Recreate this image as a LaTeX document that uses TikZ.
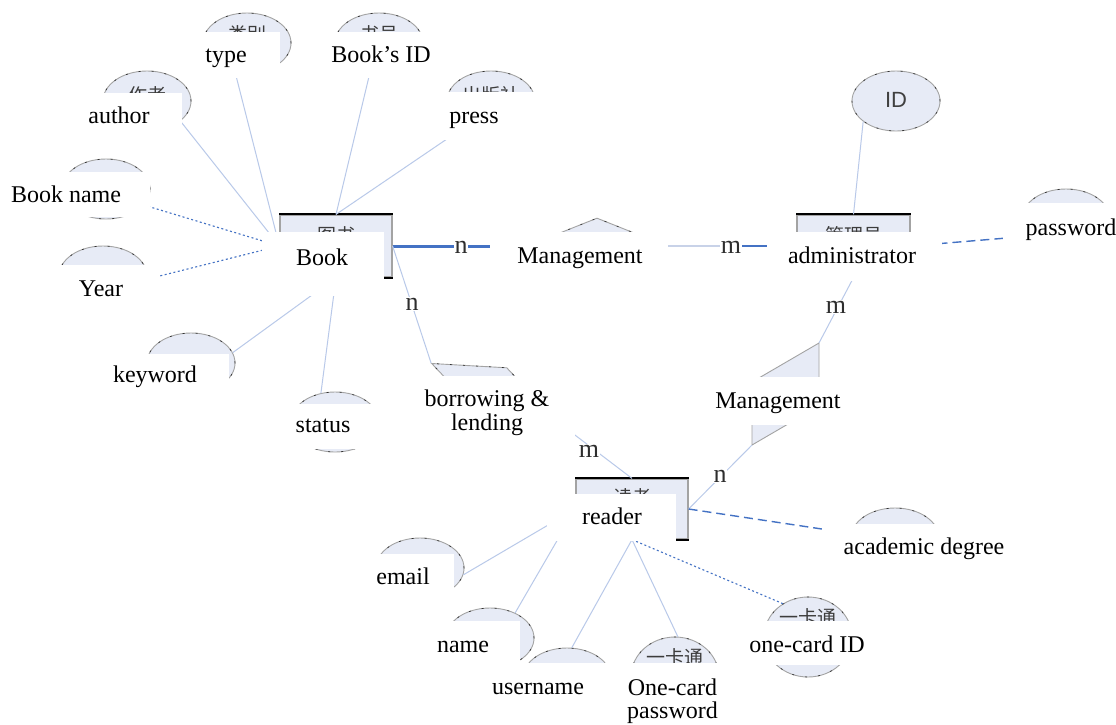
\documentclass[tikz,border=0pt]{standalone}
\usepackage{fontspec}
\setmainfont{Liberation Serif}
\newfontfamily\cjkfont{Noto Sans CJK SC}
\newfontfamily\idfont{Liberation Sans}
\usetikzlibrary{shapes.geometric,calc}

\definecolor{shapefill}{HTML}{E7EBF6}
\definecolor{shapeline}{HTML}{A3A3A3}
\definecolor{linkblue}{HTML}{4472C4}
\definecolor{linklight}{HTML}{B9C9E9}
\definecolor{linkpale}{HTML}{C8D2E8}
\definecolor{inktext}{HTML}{3C3C3C}

\tikzset{
  dotrim/.style={postaction={draw=black!80, line width=0.7pt, dash pattern=on 2pt off 11pt}},
  attr/.style={ellipse, fill=shapefill, draw=shapeline, line width=0.9pt,
    minimum width=88pt, minimum height=60pt, inner sep=0pt, dotrim},
  entity/.style={rectangle, fill=shapefill, draw=shapeline, line width=1.2pt,
    minimum width=112pt, minimum height=62pt, inner sep=0pt},
  relation/.style={diamond, fill=shapefill, draw=shapeline, line width=0.9pt,
    minimum width=140pt, minimum height=56pt, inner sep=0pt, dotrim},
  zh/.style={font=\cjkfont\fontsize{19}{23}\selectfont, text=inktext, inner sep=0pt},
  idtext/.style={font=\idfont\fontsize{22}{22}\selectfont, text=black!75, inner sep=0pt},
  cover/.style={fill=white},
  tag/.style={font=\fontsize{24}{24}\selectfont, anchor=base, inner sep=0pt},
  tagtwo/.style={font=\fontsize{24}{23.5}\selectfont, align=center, inner sep=0pt},
  card/.style={font=\fontsize{26}{26}\selectfont, text=black!82, fill=white, inner sep=0.8pt},
  link/.style={draw=linklight, line width=1pt},
  linkdot/.style={draw=linkblue, line width=1.1pt, dash pattern=on 2pt off 2.5pt},
  linkdash/.style={draw=linkblue, line width=1.4pt, dash pattern=on 9pt off 5pt},
  linkbold/.style={draw=linkblue, line width=3pt},
  edgebar/.style={draw=black, line width=2pt},
}

\begin{document}
\begin{tikzpicture}[x=1pt,y=-1pt]
\useasboundingbox (0,0) rectangle (1116,724);
\fill[white] (0,0) rectangle (1116,724);

% ---------- attributes of the book ----------
\node[attr, label={[zh,yshift=9pt]center:类别}] (type) at (247,43) {};
\node[attr, label={[zh,yshift=9pt]center:书号}] (bookid) at (379,43) {};
\node[attr, label={[zh,yshift=6pt]center:作者}] (author) at (147,101) {};
\node[attr, label={[zh,yshift=6pt]center:出版社}] (press) at (491,101) {};
\node[attr] (bookname) at (106,189) {};
\node[attr] (year) at (103,276) {};
\node[attr] (keyword) at (191,363) {};
\node[attr] (status) at (335,422) {};

% ---------- attributes of the administrator ----------
\node[attr, label={[idtext,yshift=1.5pt]center:ID}] (id) at (896,101) {};
\node[attr] (password) at (1066,219) {};

% ---------- attributes of the reader ----------
\node[attr] (acad) at (895,538) {};
\node[attr] (email) at (420,568) {};
\node[attr] (name) at (490,638) {};
\node[attr] (username) at (567,678) {};
\node[attr, minimum height=80pt, label={[zh,yshift=20pt]center:一卡通}] (onepw) at (675,677) {};
\node[attr, minimum height=80pt, label={[zh,yshift=20pt]center:一卡通}] (onecard) at (808,637) {};

% ---------- entities ----------
\node[entity, label={[zh,yshift=11pt]center:图书}] (book) at (336,246) {};
\node[entity, minimum width=113pt, label={[zh,yshift=11pt]center:管理员}] (admin) at (853.5,246) {};
\node[entity, minimum height=60pt, label={[zh,yshift=12pt]center:读者}] (reader) at (632,509) {};
\foreach \e in {book,admin,reader}{
  \draw[edgebar] (\e.north west) -- (\e.north east);
  \draw[edgebar] (\e.south west) -- (\e.south east);
}

% ---------- relationships ----------
\node[relation] (mtop) at (597,246) {};
\node[relation, rotate=-25] (borrow) at (495,393) {};
\coordinate (mr-a) at (819,343);
\coordinate (mr-b) at (819,406);
\coordinate (mr-c) at (752,445);
\coordinate (mr-d) at (752,382);
\filldraw[fill=shapefill, draw=shapeline, line width=0.9pt] (mr-a) -- (mr-b) -- (mr-c) -- (mr-d) -- cycle;

% ---------- connectors ----------
\draw[link] (type.248) -- (book.west);
\draw[link] (author.329) -- (book.west);
\draw[linkdot] (bookname.337) -- (book.west);
\draw[linkdot] (year.356) -- (book.west);
\draw[link] (bookid.253) -- (book.north);
\draw[link] (press.225) -- (book.north);
\draw[link] (keyword.14) -- (book.south);
\draw[link] (status.116) -- (book.south);

\draw[linkbold] (book.east) -- (mtop.west);
\draw[draw=linkpale, line width=2pt] (mtop.east) -- (admin.west);
\draw[draw=linkblue, line width=1.5pt] ($(mtop.east)!0.56!(admin.west)$) -- (admin.west);
\draw[link] (book.east) -- (borrow.west);
\draw[link] (borrow.east) -- (reader.north);

\draw[link] (id.212) -- (admin.north);
\draw[linkdash] (admin.east) -- (password.205);
\draw[link] (admin.south) -- (mr-a);
\draw[link] (mr-c) -- (reader.east);

\draw[linkdash] (reader.east) -- (acad.174);
\draw[linkdot] (reader.south) -- (onecard.127);
\draw[link] (reader.south) -- (onepw.86);
\draw[link] (reader.south) -- (username.81);
\draw[link] (reader.west) -- (name.45);
\draw[link] (reader.west) -- (email.351);

% ---------- English captions on white panels ----------
\fill[cover] (190,32) rectangle (280,78);
\fill[cover] (322,32) rectangle (442,78);
\fill[cover] (60,93) rectangle (182,135);
\fill[cover] (440,92) rectangle (545,140);
\fill[cover] (0,172) rectangle (150,217);
\fill[cover] (40,265) rectangle (160,312);
\fill[cover] (262,232) rectangle (384,296);
\fill[cover] (490,232) rectangle (668,285);
\fill[cover] (767,232) rectangle (942,281);
\fill[cover] (1003,203) rectangle (1116,252);
\fill[cover] (100,354) rectangle (229,398);
\fill[cover] (285,404) rectangle (390,449);
\fill[cover] (405,376) rectangle (575,444);
\fill[cover] (705,377) rectangle (850,425);
\fill[cover] (547,494) rectangle (676,541);
\fill[cover] (822,524) rectangle (1012,575);
\fill[cover] (365,554) rectangle (454,600);
\fill[cover] (425,621) rectangle (520,672);
\fill[cover] (480,663) rectangle (620,716);
\fill[cover] (622,663) rectangle (725,724);
\fill[cover] (745,621) rectangle (870,665);

\node[tag] (t-type) at (226,62) {type};
\node[tag] (t-bookid) at (381,62) {Book’s ID};
\node[tag] (t-author) at (119,123) {author};
\node[tag] (t-press) at (474,123) {press};
\node[tag] (t-bookname) at (66,202) {Book name};
\node[tag] (t-book) at (322,265) {Book};
\node[tag] (t-mtop) at (580,263) {Management};
\node[tag] (t-admin) at (852,263) {administrator};
\node[tag] (t-password) at (1071,235) {password};
\node[tag] (t-year) at (101,296) {Year};
\node[tag] (t-keyword) at (155,382) {keyword};
\node[tag] (t-status) at (323,432) {status};
\node[tagtwo] (t-borrow) at (487,413) {borrowing \&\\lending};
\node[tag] (t-mright) at (778,408) {Management};
\node[tag] (t-reader) at (612,524) {reader};
\node[tag] (t-acad) at (924,554) {academic degree};
\node[tag] (t-email) at (403,584) {email};
\node[tag] (t-name) at (463,652) {name};
\node[tag] (t-onecard) at (807,652) {one-card ID};
\node[tag] (t-username) at (538,694) {username};
\node[tagtwo] (t-onepw) at (672.5,701) {One-card\\password};

% ---------- cardinalities ----------
\node[card] (c-book-mtop) at (461,247) {n};
\node[card] (c-mtop-admin) at (731,247) {m};
\node[card] (c-book-borrow) at (412,304) {n};
\node[card] (c-admin-mright) at (836,307) {m};
\node[card] (c-borrow-reader) at (589,451) {m};
\node[card] (c-mright-reader) at (720,476) {n};
\end{tikzpicture}
\end{document}
